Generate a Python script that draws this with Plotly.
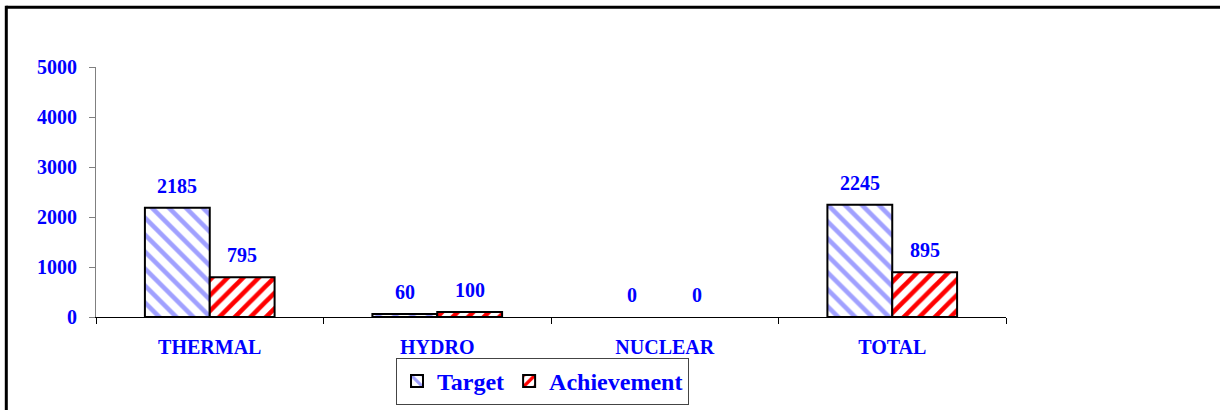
import plotly.graph_objects as go

categories = ["THERMAL", "HYDRO", "NUCLEAR", "TOTAL"]
target = [2185, 60, 0, 2245]
achievement = [795, 100, 0, 895]
y_ticks = [0, 1000, 2000, 3000, 4000, 5000]

BLUE = "#0000FF"
FONT = "Liberation Serif"

fig = go.Figure()
fig.add_trace(go.Bar(
    name="Target", x=categories, y=target,
    marker=dict(color="white",
                line=dict(color="black", width=[0 if v == 0 else 2 for v in target]),
                pattern=dict(shape="\\", fgcolor="#a0a0ff", bgcolor="white",
                             fgopacity=1, size=12, solidity=0.38)),
))
fig.add_trace(go.Bar(
    name="Achievement", x=categories, y=achievement,
    marker=dict(color="white",
                line=dict(color="black", width=[0 if v == 0 else 2 for v in achievement]),
                pattern=dict(shape="/", fgcolor="#ff0000", bgcolor="white",
                             fgopacity=1, size=11, solidity=0.42)),
))

annotations = []
for series, shift in ((target, -32.5), (achievement, 32.5)):
    for c, v in zip(categories, series):
        annotations.append(dict(
            x=c, y=v, xref="x", yref="y", text=str(v), showarrow=False,
            xshift=shift, yshift=22, yanchor="middle",
            font=dict(family=FONT, size=20, color=BLUE, weight="bold"),
        ))

W, H = 1220, 410
L, R, T, B = 96, 214, 67, 93
pw, ph = W - L - R, H - T - B


def px(x):
    return (x - L) / pw


def py(y):
    return (H - B - y) / ph


shapes = [
    dict(type="line", xref="paper", yref="paper", x0=px(6.3), x1=px(1225),
         y0=py(7.3), y1=py(7.3), line=dict(color="black", width=3)),
    dict(type="line", xref="paper", yref="paper", x0=px(6.3), x1=px(6.3),
         y0=py(5.8), y1=py(415), line=dict(color="black", width=3)),
]

fig.update_layout(
    width=W, height=H,
    margin=dict(l=L, r=R, t=T, b=B, autoexpand=False),
    paper_bgcolor="white", plot_bgcolor="white",
    barmode="group", bargap=0.43, bargroupgap=0,
    showlegend=True,
    legend=dict(orientation="h", x=px(542.5), xanchor="center",
                y=py(358), yanchor="top",
                bordercolor="#444444", borderwidth=1, bgcolor="white",
                font=dict(family=FONT, size=24, color=BLUE, weight="bold"),
                itemwidth=30, tracegroupgap=0),
    annotations=annotations,
    shapes=shapes,
    xaxis=dict(showline=True, linecolor="black", linewidth=1,
               ticks="outside", tickson="boundaries", ticklen=6,
               tickcolor="black", showgrid=False, zeroline=False,
               ticklabelstandoff=12,
               tickfont=dict(family=FONT, size=20, color=BLUE, weight="bold")),
    yaxis=dict(range=[0, 5000], tickvals=y_ticks, showline=True,
               linecolor="#808080", linewidth=1, ticks="outside", ticklen=6,
               tickcolor="#808080", showgrid=False, zeroline=False,
               ticklabelstandoff=8,
               tickfont=dict(family=FONT, size=20, color=BLUE, weight="bold")),
)

fig.write_html("out.html",
               config={"displayModeBar": False},
               post_script="document.body.style.margin='0';"
                           "document.body.style.padding='0';")
